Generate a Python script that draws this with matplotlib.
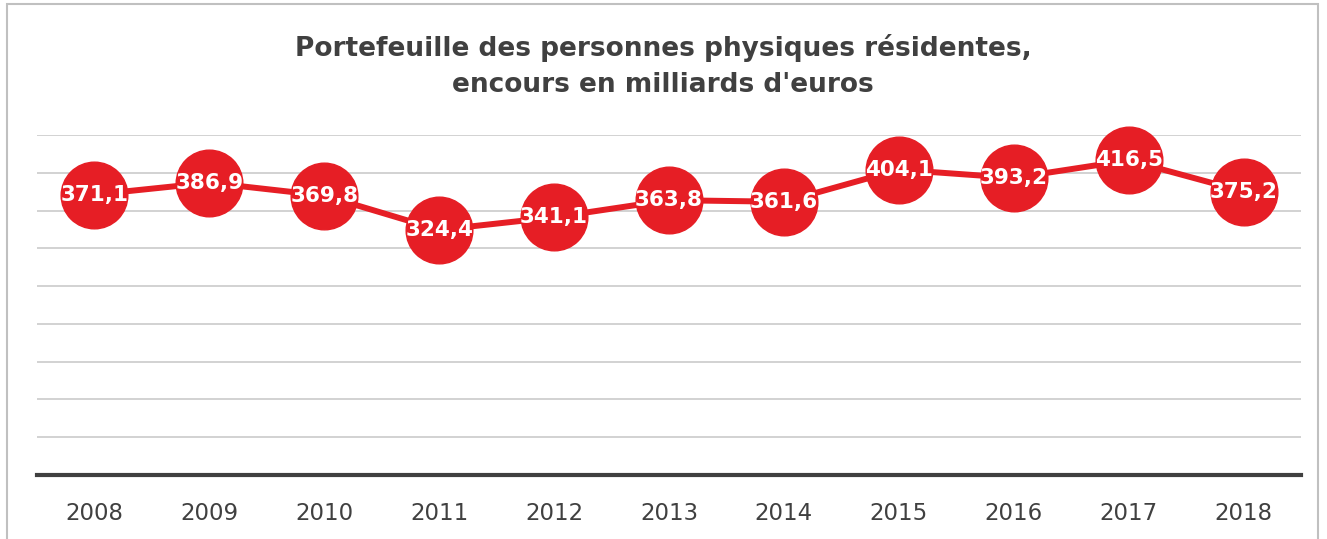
import matplotlib.pyplot as plt
from matplotlib.patches import Rectangle

years = ["2008", "2009", "2010", "2011", "2012", "2013", "2014", "2015", "2016", "2017", "2018"]
encours = [371.1, 386.9, 369.8, 324.4, 341.1, 363.8, 361.6, 404.1, 393.2, 416.5, 375.2]
labels = [f"{v:.1f}".replace(".", ",") for v in encours]

red = "#E61E25"
W, H = 1327, 539
fig = plt.figure(figsize=(W / 100, H / 100), dpi=100)
ax = fig.add_axes([37 / W, 1 - 475 / H, (1301 - 37) / W, (475 - 135) / H])

x = list(range(len(years)))
ax.plot(x, encours, color=red, lw=4.3, marker="o", ms=48, mec=red, mfc=red, zorder=3,
        clip_on=False)
for xi, v, lab in zip(x, encours, labels):
    ax.text(xi, v, lab, color="white", fontsize=15.5, fontweight="bold", ha="center",
            va="center", zorder=4)

ax.set_xlim(-0.5, len(years) - 0.5)
ax.set_ylim(0, 450)
ax.set_yticks(range(50, 451, 50))
ax.yaxis.grid(True, color="#cfcfcf", lw=1.3)
ax.set_axisbelow(True)
ax.tick_params(left=False, labelleft=False, bottom=False)
ax.set_xticks(x)
ax.set_xticklabels(years, fontsize=16.5, color="#404040")
ax.tick_params(axis="x", pad=16)
for s in ["top", "right", "left"]:
    ax.spines[s].set_visible(False)
ax.spines["bottom"].set_color("#404040")
ax.spines["bottom"].set_linewidth(3)

fig.text(663 / W, 1 - 66 / H, "Portefeuille des personnes physiques résidentes,\nencours en milliards d'euros",
         ha="center", va="center", fontsize=19, fontweight="bold", color="#404040",
         linespacing=1.5)

fig.patches.append(Rectangle((7 / W, -0.05), (1318 - 7) / W, 1 - 4 / H + 0.05,
                             transform=fig.transFigure, fill=False, ec="#c0c0c0", lw=1.5))

fig.savefig("out.png", dpi=100)
